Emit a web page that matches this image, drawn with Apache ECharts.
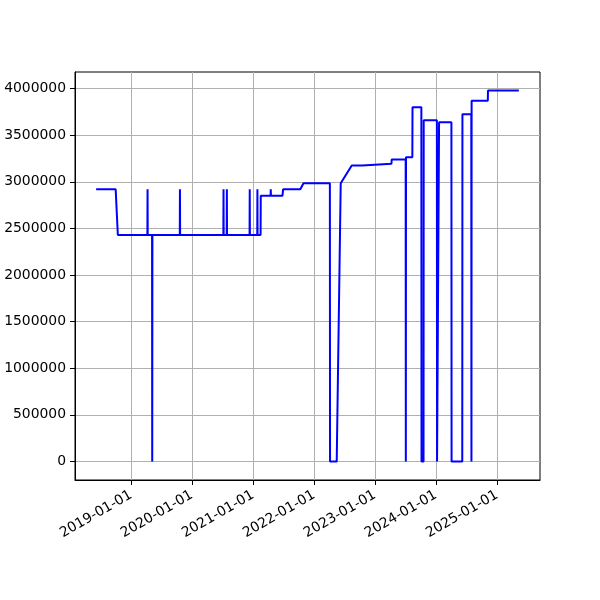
<!DOCTYPE html>
<html>
<head>
<meta charset="utf-8">
<script src="https://cdn.jsdelivr.net/npm/echarts@6/dist/echarts.min.js"></script>
<style>html,body{margin:0;padding:0;background:#fff;}#c{width:600px;height:600px;}</style>
</head>
<body>
<div id="c"></div>
<script>
var dates = [
'2018-06-06','2018-10-01','2018-10-14',
'2019-04-09','2019-04-10','2019-04-11',
'2019-05-07','2019-05-08','2019-05-09',
'2019-10-20','2019-10-21','2019-10-22',
'2020-07-07','2020-07-08','2020-07-09',
'2020-07-27','2020-07-28','2020-07-29',
'2020-12-11','2020-12-12','2020-12-13',
'2021-01-26','2021-01-27','2021-01-28',
'2021-02-15','2021-02-16',
'2021-04-16','2021-04-17','2021-04-18',
'2021-06-26','2021-06-30','2021-10-11','2021-10-30',
'2022-04-06','2022-04-07','2022-05-17','2022-06-10',
'2022-08-15','2022-10-16','2022-10-17',
'2023-04-10','2023-04-11','2023-07-04','2023-07-05','2023-07-06',
'2023-08-13','2023-08-14','2023-10-06','2023-10-07','2023-10-19','2023-10-20',
'2024-01-07','2024-01-08','2024-01-19','2024-01-20',
'2024-04-03','2024-04-04','2024-06-07','2024-06-08',
'2024-07-31','2024-08-01','2024-08-02',
'2024-11-07','2024-11-08','2025-05-12'
];
var values = [
2920000,2920000,2430000,
2430000,2920000,2430000,
2430000,0,2430000,
2430000,2920000,2430000,
2430000,2920000,2430000,
2430000,2920000,2430000,
2430000,2920000,2430000,
2430000,2920000,2430000,
2430000,2850000,
2850000,2920000,2850000,
2850000,2920000,2920000,2985000,
2985000,0,0,2985000,
3175000,3175000,3195000,
3195000,3240000,3240000,0,3265000,
3265000,3800000,3800000,0,0,3660000,
3660000,0,0,3640000,
3640000,0,0,3725000,
3725000,0,3870000,
3870000,3980000,3980000
];
var xTickLabels = ['2019-01-01','2020-01-01','2021-01-01','2022-01-01','2023-01-01','2024-01-01','2025-01-01'];
var yTickValues = [0,500000,1000000,1500000,2000000,2500000,3000000,3500000,4000000];

function toTs(d){ var p = d.split('-'); return Date.UTC(+p[0], +p[1]-1, +p[2]); }
function pad(n){ return n < 10 ? '0' + n : '' + n; }
var ts = dates.map(toTs);
var xmin = Math.min.apply(null, ts), xmax = Math.max.apply(null, ts);
var xr = xmax - xmin;
var ymin = Math.min.apply(null, values), ymax = Math.max.apply(null, values);
var yr = ymax - ymin;
var data = ts.map(function(t, i){ return [t, values[i]]; });
var xTicks = xTickLabels.map(toTs);

var font = 'DejaVu Sans';
var chart = echarts.init(document.getElementById('c'), null, {renderer: 'canvas'});
chart.setOption({
  animation: false,
  backgroundColor: '#ffffff',
  grid: {left: 75, right: 60, top: 72, bottom: 120, show: true, borderColor: '#000', borderWidth: 1, backgroundColor: 'transparent'},
  xAxis: {
    type: 'value',
    min: xmin - 0.05 * xr,
    max: xmax + 0.05 * xr,
    axisLine: {show: true, onZero: false, lineStyle: {color: '#000', width: 1}},
    axisTick: {show: true, length: 5, lineStyle: {color: '#000', width: 1}, customValues: xTicks},
    axisLabel: {
      customValues: xTicks,
      rotate: 30, margin: 14, color: '#000', fontFamily: font, fontSize: 13.9,
      formatter: function(v){ var d = new Date(v); return d.getUTCFullYear() + '-' + pad(d.getUTCMonth()+1) + '-' + pad(d.getUTCDate()); }
    },
    splitLine: {show: true, lineStyle: {color: '#b0b0b0', width: 1}}
  },
  yAxis: {
    type: 'value',
    min: ymin - 0.05 * yr,
    max: ymax + 0.05 * yr,
    axisLine: {show: true, onZero: false, lineStyle: {color: '#000', width: 1}},
    axisTick: {show: true, length: 5, lineStyle: {color: '#000', width: 1}, customValues: yTickValues},
    axisLabel: {customValues: yTickValues, margin: 9, color: '#000', fontFamily: font, fontSize: 13.9, formatter: function(v){ return String(v); }},
    splitLine: {show: true, lineStyle: {color: '#b0b0b0', width: 1}}
  },
  series: [{
    type: 'line',
    data: data,
    showSymbol: false,
    symbol: 'none',
    lineStyle: {color: '#0000ff', width: 2},
    itemStyle: {color: '#0000ff'}
  }]
});
</script>
</body>
</html>
